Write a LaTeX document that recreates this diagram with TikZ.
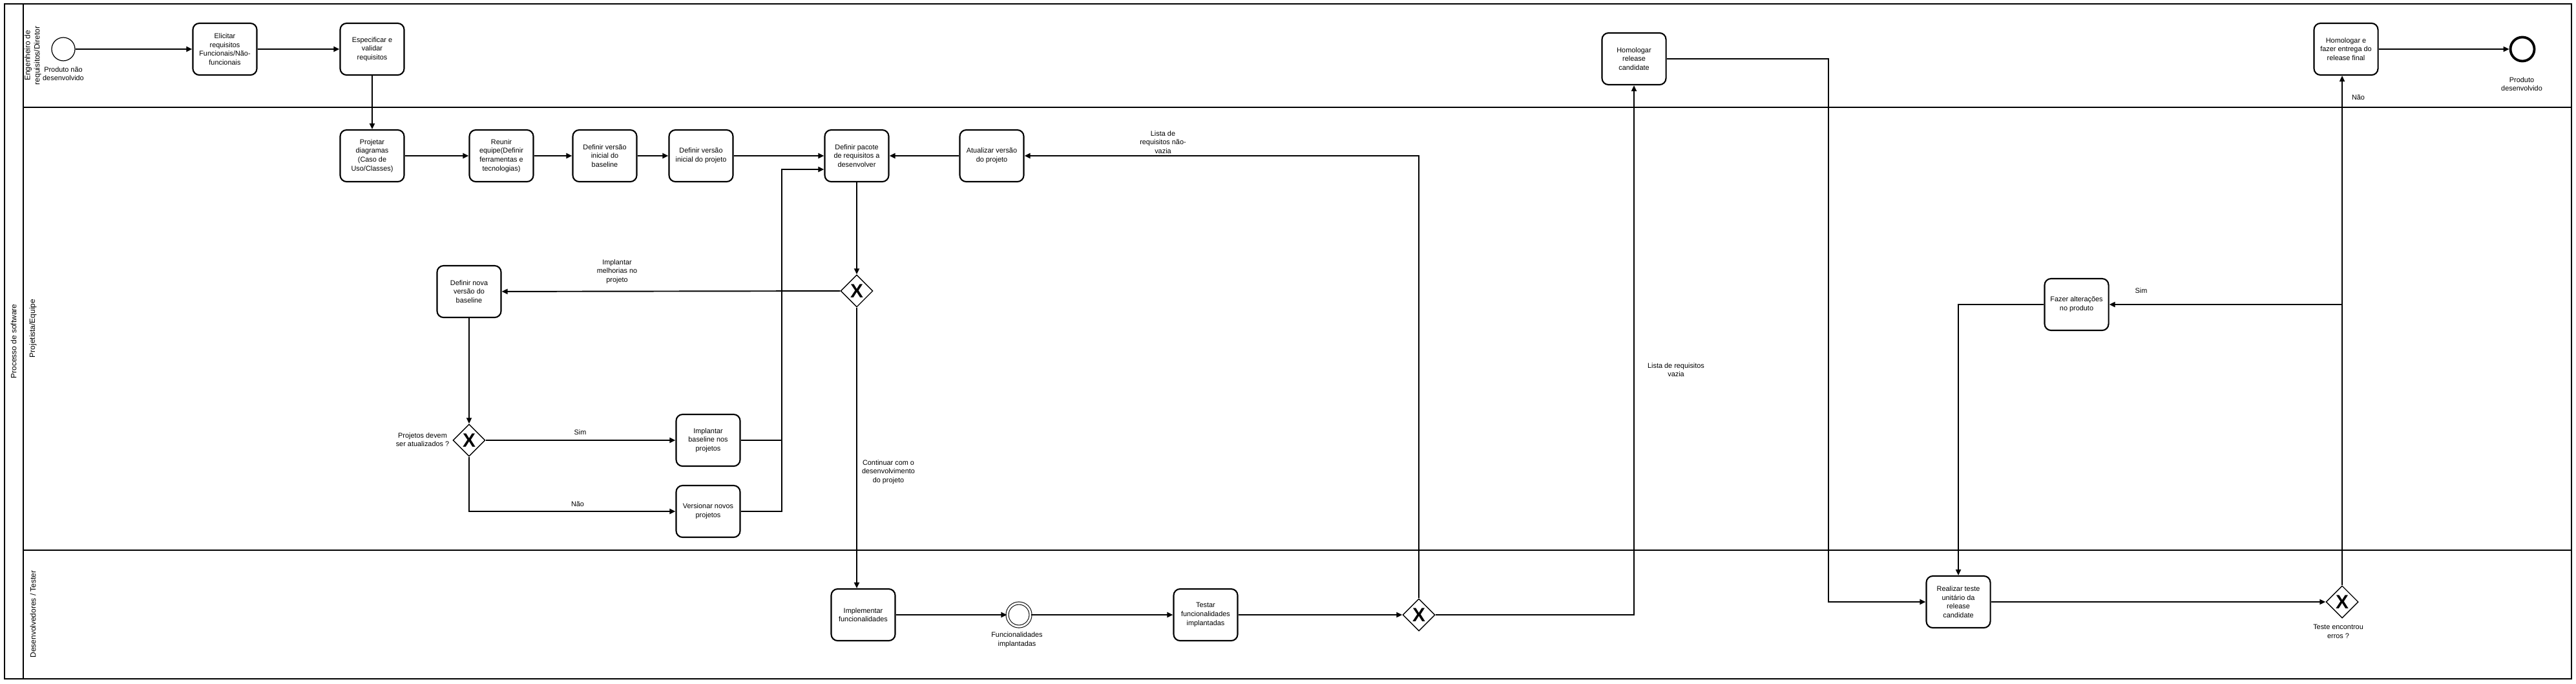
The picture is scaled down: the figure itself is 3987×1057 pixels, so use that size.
\documentclass[tikz,border=0pt]{standalone}
\usepackage{fontspec}
\setmainfont{Liberation Sans}
\usepackage{tikz}
\usetikzlibrary{arrows.meta,positioning,shapes.geometric,calc}
\newcommand{\bpmnfont}{\fontsize{3.1}{3.9}\selectfont}
\newcommand{\lanefont}{\fontsize{3.4}{4.2}\selectfont}

\begin{document}
\begin{tikzpicture}[x=0.01cm, y=-0.01cm,
  task/.style={rectangle, rounded corners=0.1cm, draw, line width=0.6pt,
               minimum width=0.99cm, minimum height=0.8cm, inner sep=0.5pt,
               font=\bpmnfont, align=center},
  gate/.style={diamond, draw, line width=0.4pt, minimum width=0.5cm,
               minimum height=0.5cm, inner sep=0pt,
               font=\fontsize{8.5}{8.5}\selectfont\bfseries},
  startev/.style={circle, draw, line width=0.35pt, minimum size=0.36cm, inner sep=0pt},
  endev/.style={circle, draw, line width=1.1pt, minimum size=0.37cm, inner sep=0pt},
  midev/.style={circle, draw, double, double distance=0.03cm, line width=0.3pt,
                minimum size=0.36cm, inner sep=0pt},
  lbl/.style={font=\bpmnfont, align=center, inner sep=0pt},
  lanelbl/.style={font=\lanefont, align=center, inner sep=0pt, rotate=90},
  flow/.style={-{Triangle[length=0.09cm, width=0.08cm]}, line width=0.55pt},
  link/.style={line width=0.55pt}
]
\useasboundingbox (0,0) rectangle (3987,1057);

% Pool and lanes
\draw[line width=0.8pt] (7,6) rectangle (3980,1050);
\draw[line width=0.8pt] (36,6) -- (36,1050);
\draw[line width=0.8pt] (36,166) -- (3980,166);
\draw[line width=0.8pt] (36,851) -- (3980,851);
\node[lanelbl] (pool)  at (21,528) {Processo de software};
\node[lanelbl] (lane1) at (51,86)  {Engenheiro de\\requisitos/Diretor};
\node[lanelbl] (lane2) at (51,508) {Projetista/Equipe};
\node[lanelbl] (lane3) at (51,950) {Desenvolvedores / Tester};

% Engenheiro de requisitos/Diretor
\node[startev] (inicio) at (98,76) {};
\node[lbl] at (98,114) {Produto não\\desenvolvido};
\node[task] (elicitar) at (348,76) {Elicitar\\requisitos\\Funcionais/Não-\\funcionais};
\node[task] (especificar) at (576,76) {Especificar e\\validar\\requisitos};
\node[task] (homrc) at (2529,91) {Homologar\\release\\candidate};
\node[task] (homfinal) at (3631,76) {Homologar e\\fazer entrega do\\release final};
\node[endev] (fim) at (3904,76) {};
\node[lbl] at (3903,130) {Produto\\desenvolvido};

% Projetista/Equipe
\node[task] (projetar) at (576,241) {Projetar\\diagramas\\(Caso de\\Uso/Classes)};
\node[task] (reunir) at (776,241) {Reunir\\equipe(Definir\\ferramentas e\\tecnologias)};
\node[task] (basezero) at (936,241) {Definir versão\\inicial do\\baseline};
\node[task] (projzero) at (1085,241) {Definir versão\\inicial do projeto};
\node[task] (pacote) at (1326,241) {Definir pacote\\de requisitos a\\desenvolver};
\node[task] (atualizar) at (1535,241) {Atualizar versão\\do projeto};
\node[gate] (gwmelhoria) at (1326,450) {X};
\node[task] (novabase) at (726,451) {Definir nova\\versão do\\baseline};
\node[gate] (gwprojetos) at (726,681) {X};
\node[lbl] at (654,680) {Projetos devem\\ser atualizados ?};
\node[task] (implbase) at (1096,681) {Implantar\\baseline nos\\projetos};
\node[task] (versionar) at (1096,791) {Versionar novos\\projetos};
\node[task] (alterar) at (3214,471) {Fazer alterações\\no produto};
\coordinate (juncao) at (1210,262);

% Desenvolvedores / Tester
\node[task] (implementar) at (1336,951) {Implementar\\funcionalidades};
\node[midev] (implantadas) at (1577,951) {};
\node[lbl] at (1574,990) {Funcionalidades\\implantadas};
\node[task] (testar) at (1866,951) {Testar\\funcionalidades\\implantadas};
\node[gate] (gwlista) at (2196,951) {X};
\node[task] (realizar) at (3031,931) {Realizar teste\\unitário da\\release\\candidate};
\node[gate] (gwerros) at (3625,931) {X};
\node[lbl] at (3619,977) {Teste encontrou\\erros ?};
\coordinate (volta) at (2830,91);

% Flows
\draw[flow] (inicio) -- (elicitar);
\draw[flow] (elicitar) -- (especificar);
\draw[flow] (especificar) -- (projetar);
\draw[flow] (projetar) -- (reunir);
\draw[flow] (reunir) -- (basezero);
\draw[flow] (basezero) -- (projzero);
\draw[flow] (projzero) -- (pacote);
\draw[flow] (atualizar) -- (pacote);
\draw[flow] (pacote) -- (gwmelhoria);
\draw[flow] (gwmelhoria) -- (novabase);
\node[lbl] at (955,420) {Implantar\\melhorias no\\projeto};
\draw[flow] (gwmelhoria) -- (gwmelhoria |- implementar.north);
\node[lbl] at (1375,730) {Continuar com o\\desenvolvimento\\do projeto};
\draw[flow] (novabase) -- (gwprojetos);
\draw[flow] (gwprojetos) -- (implbase);
\node[lbl] at (898,669) {Sim};
\draw[flow] (gwprojetos) |- (versionar);
\node[lbl] at (894,780) {Não};
\draw[link] (implbase.east) -- (implbase.east -| juncao);
\draw[flow] (versionar.east) -| (juncao) -- (juncao -| pacote.west);
\draw[flow] (implementar) -- (implantadas);
\draw[flow] (implantadas) -- (testar);
\draw[flow] (testar) -- (gwlista);
\draw[flow] (gwlista.north) |- (atualizar.east);
\node[lbl] at (1800,220) {Lista de\\requisitos não-\\vazia};
\draw[flow] (gwlista.east) -| (homrc.south);
\node[lbl] at (2594,572) {Lista de requisitos\\vazia};
\draw[flow] (homrc.east) -- (volta) |- (realizar.west);
\draw[flow] (realizar) -- (gwerros);
\draw[flow] (gwerros.north) -- (gwerros |- homfinal.south);
\node[lbl] at (3650,151) {Não};
\draw[flow] (gwerros |- alterar.east) -- (alterar.east);
\node[lbl] at (3314,450) {Sim};
\draw[flow] (alterar.west) -| (realizar.north);
\draw[flow] (homfinal) -- (fim);
\end{tikzpicture}
\end{document}
